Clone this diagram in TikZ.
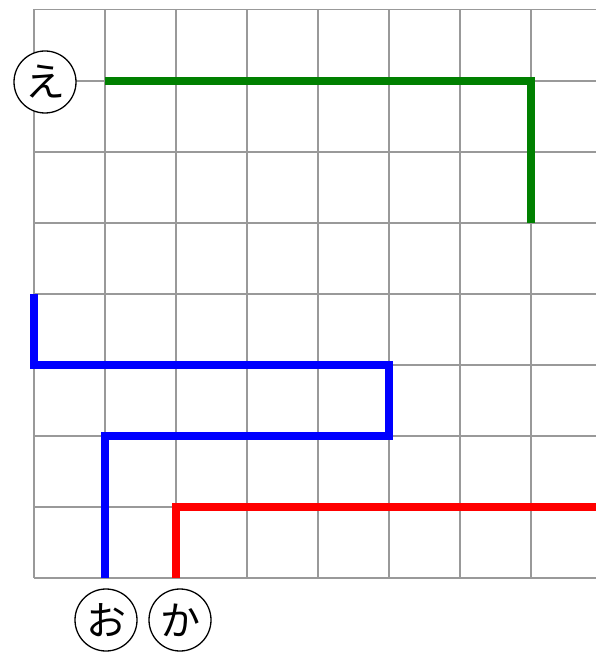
\documentclass[tikz,border=0pt]{standalone}
\usepackage{fontspec}
\newfontfamily\jpfont{Noto Sans CJK JP}
\begin{document}
\begin{tikzpicture}[x=1pt,y=-1pt,
  gridline/.style={draw=black!40,line width=1.2pt},
  route/.style={line width=8pt,line cap=butt,line join=miter},
  label/.style={circle,draw=black,line width=1.3pt,fill=white,minimum size=62pt,inner sep=0pt,font=\jpfont\fontsize{40}{40}\selectfont}]
\useasboundingbox (0,0) rectangle (596,652);
% grid
\foreach \x in {34,105,176,247,318,389,460,531}
  \draw[gridline] (\x,9.5) -- (\x,578);
\foreach \y in {9.5,81,152,223,294,365,436,507,578}
  \draw[gridline] (34,\y) -- (596,\y);
% routes
\draw[route,draw={rgb,255:red,0;green,128;blue,0}] (105,81) -- (531,81) -- (531,223);
\draw[route,draw={rgb,255:red,0;green,0;blue,255}] (34,294) -- (34,365) -- (389,365) -- (389,436) -- (105,436) -- (105,578);
\draw[route,draw={rgb,255:red,255;green,0;blue,0}] (176,578) -- (176,507) -- (596,507);
% labels
\node[label] (e) at (45,82) {え};
\node[label] (o) at (106,620) {お};
\node[label] (ka) at (180,620) {か};
\end{tikzpicture}
\end{document}
